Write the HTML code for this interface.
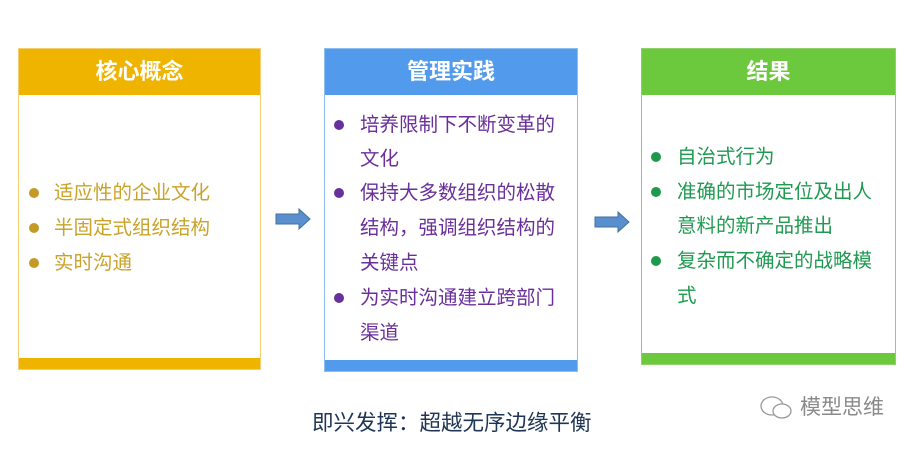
<!DOCTYPE html>
<html><head><meta charset="utf-8"><style>
body{margin:0;width:916px;height:449px;background:#fff;position:relative;overflow:hidden;font-family:"Liberation Sans","Noto Sans CJK SC",sans-serif}
.box{position:absolute;background:#fff;box-sizing:border-box}
.hd{position:absolute;left:0;right:0;top:0;height:46px;color:#fff;font-weight:bold;font-size:22px;text-align:center;line-height:46px}
.ft{position:absolute;left:0;right:0;bottom:0;height:11px}
.t{position:absolute;font-size:19.5px;line-height:24px;white-space:nowrap}
.b{position:absolute;width:10px;height:10px;border-radius:50%}
.arr{position:absolute}
</style></head><body>
<div class="box" style="left:18px;top:48px;width:243px;height:322px;border:1px solid #f2cf70">
 <div class="hd" style="background:#efb400">核心概念</div>
 <div class="ft" style="background:#efb400"></div>
</div>
<div class="box" style="left:324px;top:48px;width:254px;height:324px;border:1px solid #8fbdf0">
 <div class="hd" style="background:#529bec">管理实践</div>
 <div class="ft" style="background:#529bec"></div>
</div>
<div class="box" style="left:641px;top:48px;width:255px;height:317px;border:1px solid #8fd06a">
 <div class="hd" style="background:#6cc83c">结果</div>
 <div class="ft" style="background:#6cc83c"></div>
</div>

<div style="color:#c9a32a">
<div class="b" style="left:29px;top:188px;background:#c39a26"></div><div class="t" style="left:54px;top:181px">适应性的企业文化</div>
<div class="b" style="left:29px;top:223px;background:#c39a26"></div><div class="t" style="left:54px;top:216px">半固定式组织结构</div>
<div class="b" style="left:29px;top:258px;background:#c39a26"></div><div class="t" style="left:54px;top:251px">实时沟通</div>
</div>

<div style="color:#6a2f9a">
<div class="b" style="left:334px;top:120px;background:#67309a"></div><div class="t" style="left:360px;top:113px">培养限制下不断变革的</div>
<div class="t" style="left:360px;top:147px">文化</div>
<div class="b" style="left:334px;top:188px;background:#67309a"></div><div class="t" style="left:360px;top:181px">保持大多数组织的松散</div>
<div class="t" style="left:360px;top:216px">结构，强调组织结构的</div>
<div class="t" style="left:360px;top:251px">关键点</div>
<div class="b" style="left:334px;top:293px;background:#67309a"></div><div class="t" style="left:360px;top:286px">为实时沟通建立跨部门</div>
<div class="t" style="left:360px;top:321px">渠道</div>
</div>

<div style="color:#1f9a50">
<div class="b" style="left:651px;top:152px;background:#1e9a4c"></div><div class="t" style="left:677px;top:145px">自治式行为</div>
<div class="b" style="left:651px;top:187px;background:#1e9a4c"></div><div class="t" style="left:677px;top:180px">准确的市场定位及出人</div>
<div class="t" style="left:677px;top:214px">意料的新产品推出</div>
<div class="b" style="left:651px;top:256px;background:#1e9a4c"></div><div class="t" style="left:677px;top:249px">复杂而不确定的战略模</div>
<div class="t" style="left:677px;top:284px">式</div>
</div>

<svg class="arr" style="left:275px;top:208px" width="38" height="22"><polygon points="1,6 24,6 24,1 35,11 24,21 24,16 1,16" fill="#5a8fcf" stroke="#41719c" stroke-width="1"/></svg>
<svg class="arr" style="left:594px;top:211px" width="38" height="22"><polygon points="1,6 24,6 24,1 35,11 24,21 24,16 1,16" fill="#5a8fcf" stroke="#41719c" stroke-width="1"/></svg>

<div class="t" style="left:312px;top:411px;font-size:21.5px;color:#1f3556">即兴发挥：超越无序边缘平衡</div>

<svg class="arr" style="left:757px;top:393px" width="40" height="30"><ellipse cx="15" cy="13" rx="11" ry="9" fill="none" stroke="#999" stroke-width="1.3"/><ellipse cx="25" cy="18" rx="9" ry="7" fill="#fff" stroke="#999" stroke-width="1.3"/></svg>
<div class="t" style="left:800px;top:396px;font-size:21px;color:#8a8a8a">模型思维</div>
</body></html>
